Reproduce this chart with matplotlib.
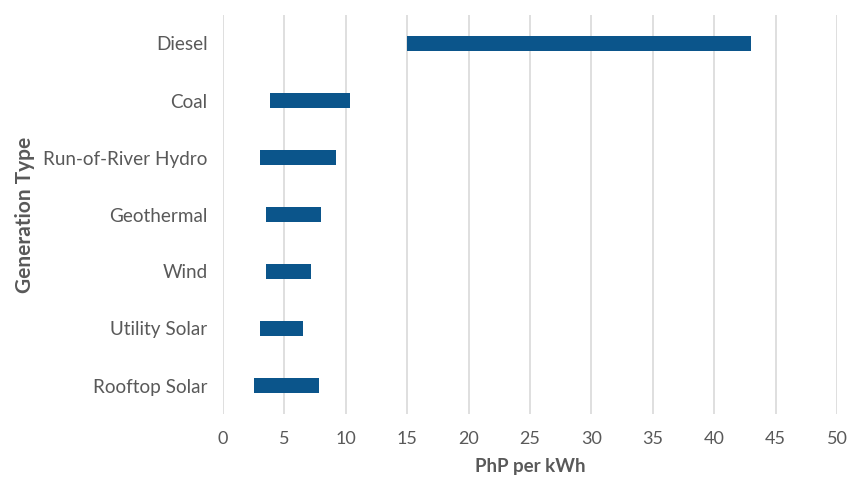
import numpy as np
import matplotlib.pyplot as plt

categories = ["Diesel", "Coal", "Run-of-River Hydro", "Geothermal", "Wind",
              "Utility Solar", "Rooftop Solar"]
low = [15.0, 3.8, 3.0, 3.5, 3.5, 3.0, 2.5]
high = [43.0, 10.35, 9.2, 8.0, 7.2, 6.5, 7.8]
xticks = [0, 5, 10, 15, 20, 25, 30, 35, 40, 45, 50]

plt.rcParams['font.family'] = ['Lato', 'DejaVu Sans']
grey = "#595959"

fig = plt.figure(figsize=(8.47, 4.8), dpi=100)
ax = fig.add_axes([223 / 847, 1 - 414 / 480, (837 - 223) / 847, 399 / 480])

y = np.arange(len(categories))[::-1]
widths = np.array(high) - np.array(low)
ax.barh(y, widths, left=low, height=0.25, color="#0B558B", zorder=3)

ax.set_xlim(0, 50)
ax.set_ylim(-0.5, len(categories) - 0.5)
ax.set_xticks(xticks)
ax.set_yticks(y)
ax.set_yticklabels(categories)
ax.grid(axis="x", color="#d9d9d9", linewidth=1.2, zorder=0)
for s in ax.spines.values():
    s.set_visible(False)
ax.tick_params(axis="both", length=0, colors=grey, labelsize=13)
ax.tick_params(axis="y", labelsize=13.6, pad=11)
ax.tick_params(axis="x", pad=12)

ax.set_xlabel("PhP per kWh", fontsize=13.5, fontweight="bold", color=grey, labelpad=8)
ax.set_ylabel("Generation Type", fontsize=15, fontweight="bold", color=grey, labelpad=6)

fig.savefig("out.png", dpi=100)
